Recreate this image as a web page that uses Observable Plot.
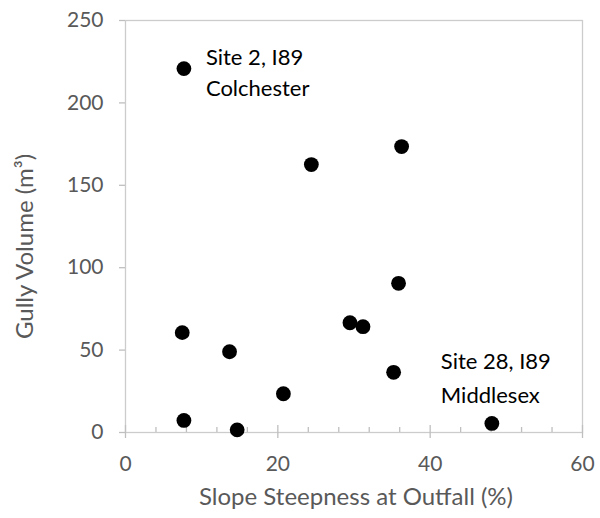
<!DOCTYPE html>
<html>
<head>
<meta charset="utf-8">
<script src="https://cdn.jsdelivr.net/npm/d3@7"></script>
<script src="https://cdn.jsdelivr.net/npm/@observablehq/plot@0.6"></script>
<style>
  html, body { margin: 0; padding: 0; background: #fff; }
  #chart svg { display: block; }
</style>
</head>
<body>
<div id="chart"></div>
<script>
// Data
const slope  = [7.67, 24.4, 36.25, 35.85, 29.47, 31.18, 7.45, 13.66, 35.2, 20.73, 7.67, 14.66, 48.1];
const volume = [220.8, 162.6, 173.5, 90.5, 66.6, 64.2, 60.6, 49.0, 36.5, 23.5, 7.3, 1.6, 5.5];

const labelText  = ["Site 2, I89\nColchester", "Site 28, I89\nMiddlesex"];
const labelSlope = [7.67, 48.1];
const labelVol   = [220.8, 5.5];

const xMajor = [0, 20, 40, 60];
const xMinor = [4, 8, 12, 16, 24, 28, 32, 36, 44, 48, 52, 56];
const yTicks = [0, 50, 100, 150, 200, 250];

const xTitle = "Slope Steepness at Outfall (%)";
const yTitle = "Gully Volume (m³)";

const points = slope.map((s, i) => ({slope: s, volume: volume[i]}));
const labels = labelText.map((t, i) => ({text: t, slope: labelSlope[i], volume: labelVol[i]}));

const axisGray = "#bfbfbf";
const textGray = "#595959";
const font = "Lato, 'Open Sans', sans-serif";

const chart = Plot.plot({
  width: 600,
  height: 518,
  marginLeft: 125,
  marginRight: 18,
  marginTop: 20,
  marginBottom: 86,
  style: {fontFamily: font, background: "#fff"},
  x: {domain: [0, 60], label: null},
  y: {domain: [0, 250], label: null},
  marks: [
    Plot.frame({stroke: "#cccccc", strokeWidth: 1.3}),
    // x major ticks (cross the axis)
    Plot.axisX({ticks: xMajor, tickSize: 13, dy: -7, text: null, stroke: axisGray, strokeWidth: 1.3, label: null}),
    // x minor ticks (inside)
    Plot.axisX({ticks: xMinor, tickSize: 5, dy: -5, text: null, stroke: axisGray, strokeWidth: 1.3, label: null}),
    // x tick labels
    Plot.axisX({ticks: xMajor, tickSize: 0, tickPadding: 24, fontSize: 21, fill: textGray, label: null, tickFormat: d => d}),
    // y ticks (outside)
    Plot.axisY({ticks: yTicks, tickSize: 6, text: null, stroke: axisGray, strokeWidth: 1.3, label: null}),
    // y tick labels
    Plot.axisY({ticks: yTicks, tickSize: 0, tickPadding: 22, fontSize: 21, fill: textGray, label: null, tickFormat: d => d}),
    // axis titles
    Plot.text([xTitle], {text: d => d, frameAnchor: "bottom", textAnchor: "middle", dy: 72, dx: 2, fontSize: 24, fill: textGray}),
    Plot.text([yTitle], {text: d => d, frameAnchor: "left", textAnchor: "middle", dx: -100, dy: 20, rotate: -90, fontSize: 24, fill: textGray}),
    // points
    Plot.dot(points, {x: "slope", y: "volume", r: 7.4, fill: "#000", stroke: null}),
    // data labels
    Plot.text(labels.slice(0, 1), {x: "slope", y: "volume", text: "text", textAnchor: "start", dx: 22, dy: 2, lineHeight: 1.41, fontSize: 22, fill: "#000"}),
    Plot.text(labels.slice(1), {x: "slope", y: "volume", text: "text", textAnchor: "start", dx: -51, dy: -48, lineHeight: 1.51, fontSize: 22, fill: "#000"})
  ]
});

document.getElementById("chart").appendChild(chart);
</script>
</body>
</html>
